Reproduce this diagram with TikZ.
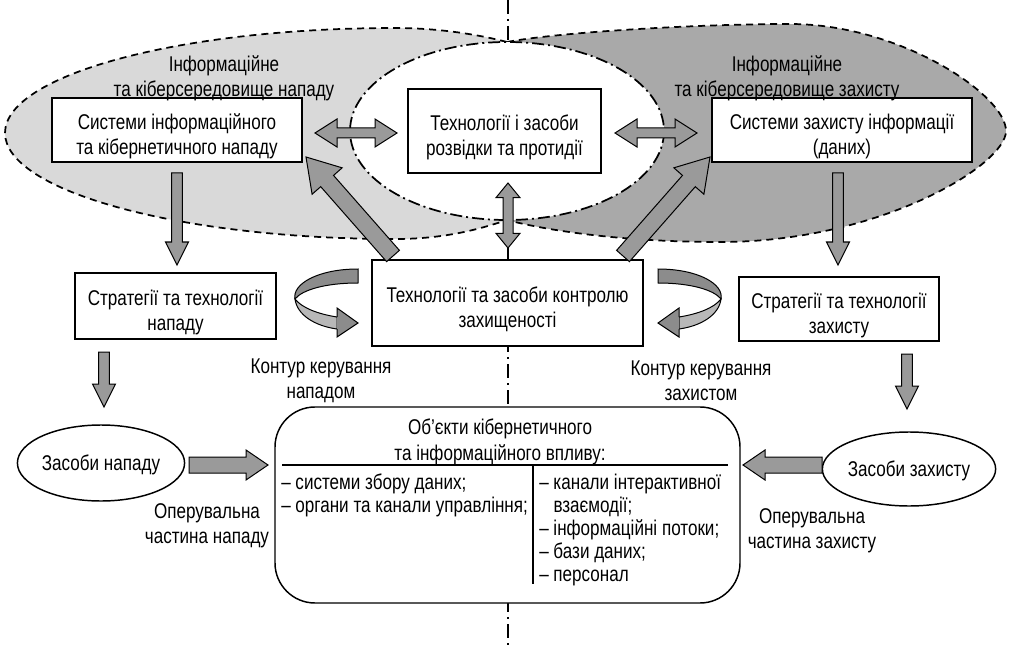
\documentclass[tikz,border=0pt]{standalone}
\usepackage{fontspec}
\setmainfont{Liberation Sans}[FakeStretch=0.8]
\usetikzlibrary{calc,shapes.geometric}

\definecolor{leftzone}{HTML}{D9D9D9}
\definecolor{rightzone}{HTML}{A9A9A9}
\definecolor{arrowgray}{HTML}{9A9A9A}
\definecolor{ribbondark}{HTML}{8C8C8C}
\definecolor{ribbonlight}{HTML}{B8B8B8}

% taller first line, so that box texts sit a little low in their frames
\newcommand\lowstart{\rule{0pt}{21pt}}

% block arrow: tail, tip, shaft half-width, head half-width, head length
\newcommand\blockarrow[5]{%
  \coordinate (ba-h) at ($(#2)!#5!(#1)$);
  \filldraw[arrowbody] ($(#1)!#3!90:(#2)$) -- ($(ba-h)!#3!90:(#2)$) -- ($(ba-h)!#4!90:(#2)$)
    -- (#2) -- ($(ba-h)!#4!-90:(#2)$) -- ($(ba-h)!#3!-90:(#2)$) -- ($(#1)!#3!-90:(#2)$) -- cycle;
}
% double-headed block arrow: end, end, shaft half-width, head half-width, head length
\newcommand\doublearrow[5]{%
  \coordinate (da-a) at ($(#1)!#5!(#2)$);
  \coordinate (da-b) at ($(#2)!#5!(#1)$);
  \filldraw[arrowbody] (#1) -- ($(da-a)!#4!90:(#2)$) -- ($(da-a)!#3!90:(#2)$) -- ($(da-b)!#3!90:(#2)$)
    -- ($(da-b)!#4!90:(#2)$) -- (#2) -- ($(da-b)!#4!-90:(#2)$) -- ($(da-b)!#3!-90:(#2)$)
    -- ($(da-a)!#3!-90:(#2)$) -- ($(da-a)!#4!-90:(#2)$) -- cycle;
}
% twisted U-turn ribbon arrow (left-hand version)
\newcommand\ribbonarrow{%
  \filldraw[ribbonback] (295,299) .. controls (297,315) and (315,326) .. (337,329)
    -- (337,317) .. controls (318,314) and (302,308) .. (295,299) -- cycle;
  \filldraw[ribbonfront] (358,269) .. controls (318,269) and (292,284) .. (295,299)
    .. controls (302,290) and (325,283) .. (358,283) -- cycle;
  \filldraw[ribbonfront] (337,317) -- (337,308) -- (358,323) -- (337,337) -- (337,329);
}

\begin{document}
\begin{tikzpicture}[x=0.75pt, y=-0.75pt,
  every node/.style={font=\fontsize{16}{19}\selectfont, inner sep=0pt},
  box/.style={draw, line width=1.1pt, fill=white, align=center},
  oval/.style={draw, line width=1.1pt, fill=white, ellipse, align=center},
  note/.style={align=center},
  listtext/.style={anchor=west, align=left, font=\fontsize{16}{17.4}\selectfont},
  arrowbody/.style={fill=arrowgray, draw=black, line width=0.75pt, line join=miter},
  ribbonfront/.style={fill=ribbondark, draw=black, line width=0.75pt, line join=miter},
  ribbonback/.style={fill=ribbonlight, draw=black, line width=0.75pt},
  zoneborder/.style={line width=1.3pt, dash pattern=on 5.25pt off 3.75pt},
  coreborder/.style={line width=1.3pt, dash pattern=on 9pt off 3pt on 1.5pt off 3pt},
  axisline/.style={line width=0.9pt, dash pattern=on 10.5pt off 3.75pt on 1.5pt off 3.75pt}
]
\useasboundingbox (0,0) rectangle (1009,645);

% symmetry axis, behind everything
\draw[axisline] (508,0) -- (508,645);

% attack and defence environments
\fill[leftzone] (507,42) .. controls (480,35) and (440,28) .. (395,28)
  .. controls (180,28) and (5,75) .. (5,133)
  .. controls (5,191) and (180,239) .. (395,239)
  .. controls (445,239) and (480,229) .. (507,220) -- cycle;
\fill[rightzone] (507,42) .. controls (560,32) and (700,24) .. (790,24)
  .. controls (900,24) and (1006,95) .. (1006,131)
  .. controls (1006,165) and (880,242) .. (720,242)
  .. controls (620,242) and (545,230) .. (507,220) -- cycle;
\draw[zoneborder] (507,42) .. controls (480,35) and (440,28) .. (395,28)
  .. controls (180,28) and (5,75) .. (5,133)
  .. controls (5,191) and (180,239) .. (395,239)
  .. controls (445,239) and (480,229) .. (507,220);
\draw[zoneborder] (507,42) .. controls (560,32) and (700,24) .. (790,24)
  .. controls (900,24) and (1006,95) .. (1006,131)
  .. controls (1006,165) and (880,242) .. (720,242)
  .. controls (620,242) and (545,230) .. (507,220);
% shared reconnaissance zone
\filldraw[fill=white, coreborder] (507,131) ellipse [x radius=157, y radius=89];

% main blocks
\node[box, minimum width=187.5pt, minimum height=48pt] (attsys) at (177,130)
  {\lowstart Системи інформаційного\\та кібернетичного нападу};
\node[box, minimum width=144.75pt, minimum height=63pt] (recon) at (504.5,131)
  {\lowstart Технології і засоби\\розвідки та протидії};
\node[box, minimum width=195pt, minimum height=48pt] (defsys) at (842,130)
  {\lowstart Системи захисту інформації\\(даних)};
\node[box, minimum width=150.75pt, minimum height=49.5pt] (attstrat) at (175.5,306)
  {\lowstart Стратегії та технології\\нападу};
\node[box, minimum width=203.25pt, minimum height=64.5pt] (control) at (507.5,303)
  {\lowstart Технології та засоби контролю\\захищеності};
\node[box, minimum width=150pt, minimum height=48pt] (defstrat) at (839,309)
  {\lowstart Стратегії та технології\\захисту};
\node[oval, minimum width=121.5pt, minimum height=57pt] (attmeans) at (101,463) {\rule{0pt}{15pt}Засоби нападу};
\node[oval, minimum width=121.5pt, minimum height=55.5pt] (defmeans) at (909,469) {\rule{0pt}{15pt}Засоби захисту};
\node[box, rounded corners=30pt, minimum width=348.75pt, minimum height=147pt] (targets) at (507.5,505) {};

% environment captions, set over the frame tops
\node[note] (attenv) at (224,78) {Інформаційне\\та кіберсередовище нападу};
\node[note] (defenv) at (787,78) {Інформаційне\\та кіберсередовище захисту};

% contents of the target block
\node[note] (targettitle) at (500,442) {Об’єкти кібернетичного\\та інформаційного впливу:};
\draw[line width=1.8pt] (282,465) -- (728,465);
\draw[line width=1.4pt] (533,465) -- (533,584);
\node[listtext] (leftlist) at (281,495) {– системи збору даних;\\– органи та канали управління;};
\node[listtext] (rightlist) at (539,530)
  {– канали інтерактивної\\\phantom{– }взаємодії;\\– інформаційні потоки;\\– бази даних;\\– персонал};

% captions of control loops and operating parts
\node[note] (attloop) at (321,381) {Контур керування\\нападом};
\node[note] (defloop) at (701,381) {Контур керування\\захистом};
\node[note] (attop) at (207,526) {Оперувальна\\частина нападу};
\node[note] (defop) at (812,531) {Оперувальна\\частина захисту};

% arrow end points
\coordinate (rl1) at (315,133); \coordinate (rl2) at (397,133);
\coordinate (rr1) at (615,133); \coordinate (rr2) at (697,133);
\coordinate (rc1) at (508,183); \coordinate (rc2) at (508,248);
\coordinate (dl1) at (393,256); \coordinate (dl2) at (306,157);
\coordinate (dr1) at (623,256); \coordinate (dr2) at (710,157);
\coordinate (sl1) at (177,173); \coordinate (sl2) at (177,265);
\coordinate (sr1) at (838,173); \coordinate (sr2) at (838,265);
\coordinate (ml1) at (104,352); \coordinate (ml2) at (104,407);
\coordinate (mr1) at (907,354); \coordinate (mr2) at (907,409);
\coordinate (ol1) at (189,465); \coordinate (ol2) at (268,465);
\coordinate (or1) at (822,465); \coordinate (or2) at (743,465);

% exchange with reconnaissance
\doublearrow{rl1}{rl2}{3.75pt}{10.5pt}{16.5pt}
\doublearrow{rr1}{rr2}{3.75pt}{10.5pt}{16.5pt}
\draw[line width=0.8pt] (rc2) -- (rc2 |- control.north);
\doublearrow{rc1}{rc2}{3.75pt}{9pt}{11pt}
% feedback from security control
\blockarrow{dl1}{dl2}{6.4pt}{15pt}{24pt}
\blockarrow{dr1}{dr2}{6.4pt}{15pt}{24pt}
% systems -> strategies -> means
\blockarrow{sl1}{sl2}{4.1pt}{8.6pt}{17.25pt}
\blockarrow{sr1}{sr2}{4.1pt}{8.6pt}{17.25pt}
\blockarrow{ml1}{ml2}{4.1pt}{8.6pt}{17.25pt}
\blockarrow{mr1}{mr2}{4.1pt}{8.6pt}{17.25pt}
% means -> targets
\blockarrow{ol1}{ol2}{6pt}{11.25pt}{16.5pt}
\blockarrow{or1}{or2}{6pt}{11.25pt}{16.5pt}

% control loops
\ribbonarrow
\begin{scope}[shift={(1016,0)}, xscale=-1]
  \ribbonarrow
\end{scope}
\end{tikzpicture}
\end{document}
